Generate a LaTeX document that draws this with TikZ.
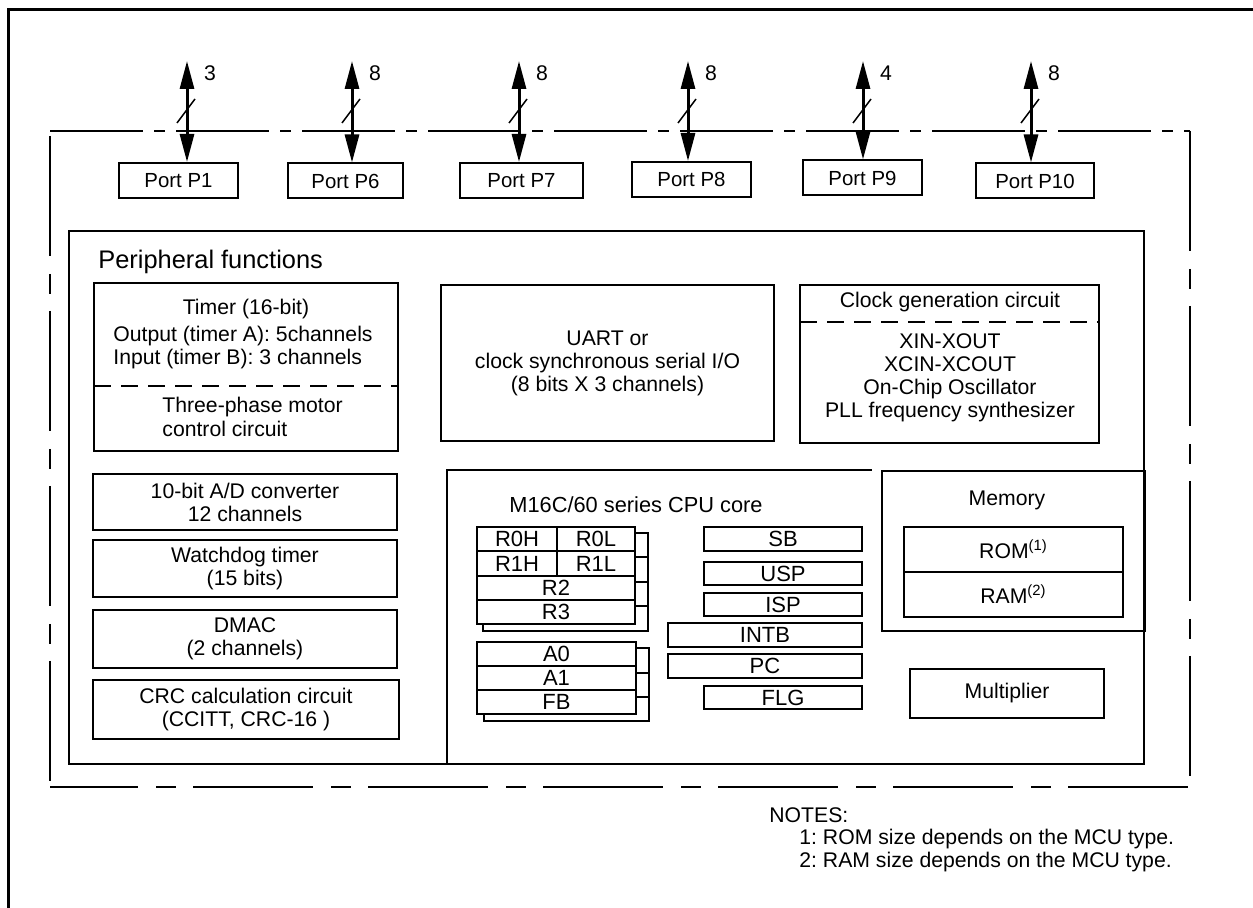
\documentclass[tikz,border=0pt]{standalone}
\usepackage{fontspec}
\setmainfont{Liberation Sans}
\usetikzlibrary{arrows.meta}
\frenchspacing

\begin{document}
\begin{tikzpicture}[x=0.5pt,y=-0.5pt,
  box/.style={draw,line width=1pt,inner sep=0pt,align=center,font=\fontsize{10.6}{11.5}\selectfont},
  wh/.style 2 args={minimum width=#1*0.5pt,minimum height=#2*0.5pt},
  txt/.style={inner sep=0pt,align=center,font=\fontsize{10.6}{11.5}\selectfont},
  reg/.style={box,fill=white,font=\fontsize{11}{12}\selectfont},
  bus/.style={line width=1.5pt,{Triangle[length=14pt,width=7pt]}-{Triangle[length=14pt,width=7pt]}},
  dframe/.style={line width=1pt,dash pattern=on 60pt off 9pt on 10pt off 8.5pt},
  divider/.style={line width=1pt,dash pattern=on 8.5pt off 5pt}]
  \useasboundingbox (0,0) rectangle (1253,908);
  % chip outline
  \draw[line width=1.5pt] (8,908) -- (8,10) -- (1253,10);
  \draw[line width=1pt,dash pattern=on 46.5pt off 5.5pt on 5.5pt off 5.5pt] (50,131) -- (1190,131);
  \draw[dframe] (1190,131) -- (1190,777);
  \draw[dframe] (50,136) -- (50,783);
  \draw[dframe,dash phase=16pt] (50,787) -- (1190,787);
  % ports
  \foreach \i/\cx/\cy/\w/\ax/\b in {1/178.5/180.5/119/187/3, 6/345.5/181/115/352/8,
      7/521.5/180.5/123/519/8, 8/691.5/179.5/119/688/8, 9/862.5/178/119/863/4,
      10/1035/181/118/1031/8} {
    \node[box,wh={\w}{35},font=\fontsize{10.2}{12}\selectfont] (port\i) at (\cx,\cy) {Port P\i};
    \coordinate (top\i) at (\ax,61);
    \draw[bus] (top\i) -- (top\i |- port\i.north);
    \draw[line width=0.75pt] ([shift={(-10,62)}]top\i) -- ([shift={(8,38)}]top\i);
    \node[txt] (bits\i) at ([shift={(23,12)}]top\i) {\b};
  }
  % peripheral functions
  \node[box,wh={1075}{533}] (periph) at (606.5,497.5) {};
  \node[txt,anchor=west,font=\fontsize{12.7}{14}\selectfont] (ptitle) at (98,262) {Peripheral functions};
  \node[box,wh={304}{168}] (timer) at (246,367) {};
  \node[txt] (timertitle) at (246,309) {Timer (16-bit)};
  \node[txt,anchor=west,align=left] (timerio) at (113,348) {Output (timer A): 5channels\\Input (timer B): 3 channels};
  \draw[divider] (94,386) -- (398,386);
  \node[txt,anchor=west,align=left,font=\fontsize{10.6}{12}\selectfont] (motor) at (162,417) {Three-phase motor\\control circuit};
  \node[box,wh={333}{156}] (uart) at (607.5,363) {UART or\\clock synchronous serial I/O\\(8 bits X 3 channels)};
  \node[box,wh={299}{158}] (clock) at (949.5,364) {};
  \node[txt] (clocktitle) at (950,302) {Clock generation circuit};
  \draw[divider] (800,322) -- (1099,322);
  \node[txt] (clocksrc) at (950,378) {XIN-XOUT\\XCIN-XCOUT\\On-Chip Oscillator\\PLL frequency synthesizer};
  \node[box,wh={304}{56}] (adc) at (245,502) {10-bit A/D converter\\12 channels};
  \node[box,wh={304}{57}] (wdt) at (245,568.5) {Watchdog timer\\(15 bits)};
  \node[box,wh={304}{58}] (dmac) at (245,639) {DMAC\\(2 channels)};
  \node[box,wh={306}{59}] (crc) at (246,709.5) {CRC calculation circuit\\(CCITT, CRC-16 )};
  % CPU core
  \draw[line width=1pt] (447,764) -- (447,470) -- (872,470);
  \node[txt,font=\fontsize{10.9}{12}\selectfont] (cputitle) at (636,505) {M16C/60 series CPU core};
  \draw[line width=1pt] (483,533) rectangle (648,631);
  \foreach \y in {557,582,606} \draw[line width=1pt] (635,\y) -- (648,\y);
  \node[reg,wh={80}{24}] (r0h) at (517,539) {R0H};
  \node[reg,wh={78}{24}] (r0l) at (596,539) {R0L};
  \node[reg,wh={80}{25}] (r1h) at (517,563.5) {R1H};
  \node[reg,wh={78}{25}] (r1l) at (596,563.5) {R1L};
  \node[reg,wh={158}{24}] (r2) at (556,588) {R2};
  \node[reg,wh={158}{24}] (r3) at (556,612) {R3};
  \draw[line width=1pt] (484,648) rectangle (649,721);
  \foreach \y in {673,697} \draw[line width=1pt] (636,\y) -- (649,\y);
  \node[reg,wh={159}{24}] (a0) at (556.5,654) {A0};
  \node[reg,wh={159}{24}] (a1) at (556.5,678) {A1};
  \node[reg,wh={159}{24}] (fb) at (556.5,702) {FB};
  \node[reg,wh={158}{24}] (sb) at (783,539) {SB};
  \node[reg,wh={158}{23}] (usp) at (783,573.5) {USP};
  \node[reg,wh={158}{23}] (isp) at (783,604.5) {ISP};
  \node[reg,wh={194}{24}] (intb) at (765,635) {INTB};
  \node[reg,wh={194}{24}] (pc) at (765,666) {PC};
  \node[reg,wh={158}{23}] (flg) at (783,697.5) {FLG};
  % memory
  \node[box,wh={263}{160}] (mem) at (1013.5,551) {};
  \node[txt] (memtitle) at (1007,500) {Memory};
  \node[box,wh={219}{45}] (rom) at (1013.5,549.5) {ROM\textsuperscript{(1)}};
  \node[box,wh={219}{45}] (ram) at (1013.5,594.5) {RAM\textsuperscript{(2)}};
  \node[box,wh={194}{49}] (mult) at (1007,693.5) {Multiplier};
  % notes
  \node[txt,anchor=west] (notes) at (769,815) {NOTES:};
  \node[txt,anchor=west] (note1) at (799,839) {1: ROM size depends on the MCU type.};
  \node[txt,anchor=west] (note2) at (799,862) {2: RAM size depends on the MCU type.};
\end{tikzpicture}
\end{document}
